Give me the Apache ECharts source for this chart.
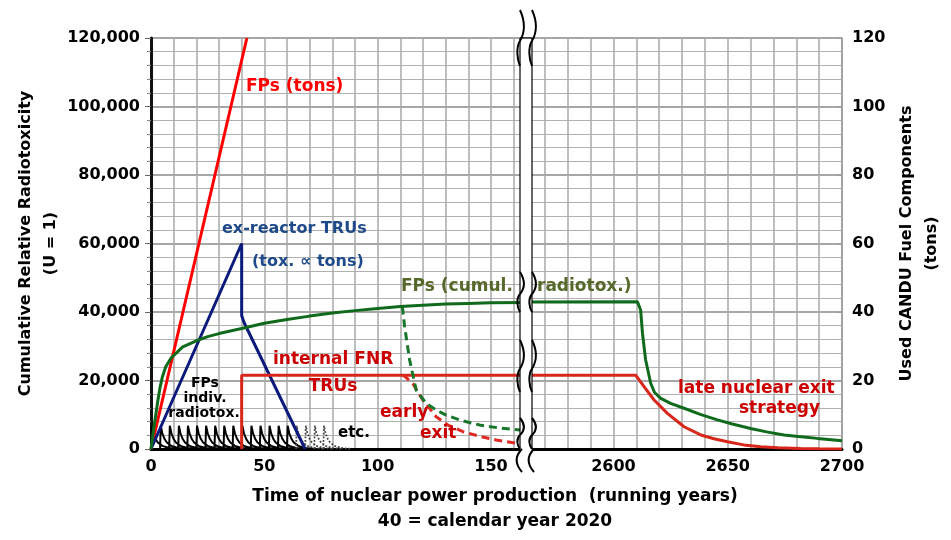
<!DOCTYPE html>
<html>
<head>
<meta charset="utf-8">
<script src="https://cdn.jsdelivr.net/npm/echarts@6/dist/echarts.min.js"></script>
<style>html,body{margin:0;padding:0;background:#fff;}#c{width:951px;height:540px;}</style>
</head>
<body>
<div id="c"></div>
<script>
// ---------- DATA (left y scale: cumulative relative radiotoxicity; right scale = tons = /1000) ----------
const xTicksLeft = [0, 50, 100, 150];
const xTicksRight = [2600, 2650, 2700];

const fpsTons = [[0, 0], [42.3, 120000]];
const exReactorTRUs = [[0, 0], [40, 60000], [40, 39000], [41, 37000], [68, 0]];
const fpsCumulLeft = [[0, 0], [1, 5000], [2, 9500], [3, 14000], [4, 18000], [5, 21000], [6.5, 24000], [9, 26700],
  [14, 29800], [20, 31600], [25, 32800], [30, 33700], [40, 35200], [50, 36700], [60, 37800], [70, 38800],
  [80, 39700], [90, 40400], [100, 41000], [110, 41600], [120, 42000], [130, 42300], [140, 42500], [150, 42700], [165, 42800]];
const fpsCumulEarlyExit = [[110.9, 41600], [111.9, 35700], [114.1, 26000], [117, 17200], [121.4, 13300], [126, 11300],
  [130.2, 9900], [137, 8300], [145, 7000], [153, 6200], [165, 5400]];
const fnrTRUsLeft = [[40, 0], [40, 21500], [165, 21500]];
const fnrEarlyExit = [[111, 21500], [112, 21200], [115.5, 19150], [119.9, 14300], [125.8, 9430], [131, 7000],
  [137.6, 5060], [145, 3700], [152.3, 2630], [165, 1300]];
const fpsCumulRight = [[2560, 42900], [2610.5, 43000], [2611.9, 40600], [2612.7, 33800], [2614.1, 26000], [2616.3, 19200],
  [2618, 16500], [2620.7, 14800], [2625, 13300], [2630.9, 11900], [2638, 10100], [2645.5, 8500], [2652, 7300],
  [2660, 6000], [2667, 5000], [2674.6, 4100], [2682, 3600], [2689.2, 3100], [2700, 2400]];
const fnrTRUsRight = [[2560, 21500], [2609.8, 21500], [2613.4, 18200], [2617.8, 14300], [2623.6, 10400], [2630.9, 6500],
  [2638.2, 4100], [2644, 3000], [2649.9, 2100], [2657, 1200], [2664.4, 670], [2672, 350], [2681.9, 150], [2690, 50], [2700, 0]];
// individual FP radiotoxicity saw-teeth (start years and one tooth's profile: [years after start, value])
const toothStarts = [0, 4, 8, 12, 16, 20, 24, 28, 32, 36, 40, 44, 48, 52, 56, 60];
const ghostToothStarts = [64, 68, 72, 76];
const toothProfile = [[0, 0], [0.3, 6800], [1, 4600], [2, 2900], [3, 1900], [5, 900], [8, 300], [12, 0]];

// ---------- build ----------
function teeth(starts) {
  const out = [];
  starts.forEach(s => {
    toothProfile.forEach(p => out.push([s + p[0], p[1]]));
    out.push([s, '-']);
  });
  return out;
}

const F = 'DejaVu Sans';
const chart = echarts.init(document.getElementById('c'), null, {renderer: 'canvas'});

function ln(name, data, color, width, xi, yi, type, z) {
  return {
    name, type: 'line', data, xAxisIndex: xi, yAxisIndex: yi, showSymbol: false, symbol: 'none',
    connectNulls: false, animation: false, z: z || 3,
    lineStyle: {color, width, type: type || 'solid'}
  };
}

function txt(text, x, y, color, size) {
  return {
    type: 'text', x: x, y: y, z: 20,
    style: {text, fill: color, font: 'bold ' + size + 'px "' + F + '"', align: 'left', verticalAlign: 'middle'}
  };
}
function txtC(text, cx, cy, color, size) {
  return {
    type: 'text', x: cx, y: cy, z: 20,
    style: {text, fill: color, font: 'bold ' + size + 'px "' + F + '"', align: 'center', verticalAlign: 'middle'}
  };
}
function bez(x1, y1, c1x, c1y, c2x, c2y, x2, y2) {
  return {
    type: 'bezierCurve', z: 31,
    shape: {x1, y1, x2, y2, cpx1: c1x, cpy1: c1y, cpx2: c2x, cpy2: c2y},
    style: {stroke: '#000', lineWidth: 2, fill: null}
  };
}
function squiggle(x, y0, y1) {
  const h = y1 - y0, m = y0 + h * 0.55;
  return [
    bez(x, y0, x + 5, y0 + h * 0.2, x + 5, y0 + h * 0.4, x, m),
    bez(x, m, x - 4, m + h * 0.12, x - 3, y1 - h * 0.12, x, y1)
  ];
}

const yLabel = {fontFamily: F, fontWeight: 'bold', fontSize: 16, color: '#000'};

const breakGraphics = [
  {type: 'rect', z: 30, shape: {x: 520, y: 38, width: 12, height: 434}, style: {fill: '#fff', stroke: null}},
  {type: 'line', z: 31, shape: {x1: 520, y1: 38, x2: 520, y2: 449}, style: {stroke: '#000', lineWidth: 1.2}},
  {type: 'line', z: 31, shape: {x1: 532, y1: 38, x2: 532, y2: 449}, style: {stroke: '#000', lineWidth: 1.2}},
  {type: 'line', z: 31, shape: {x1: 520, y1: 38, x2: 532, y2: 38}, style: {stroke: '#000', lineWidth: 1.2}}
].concat(
  squiggle(520, 10, 66), squiggle(532, 10, 66),
  squiggle(520, 272, 312), squiggle(532, 272, 312),
  squiggle(520, 340, 392), squiggle(532, 340, 392),
  squiggle(520, 418, 449), squiggle(532, 418, 449),
  [bez(522, 449, 515, 456, 515, 464, 522, 472), bez(534, 449, 527, 456, 527, 464, 534, 472)]
);

const option = {
  animation: false,
  backgroundColor: '#ffffff',
  grid: [
    {left: 151, top: 38, width: 374, height: 411},
    {left: 522, top: 38, width: 320, height: 411}
  ],
  xAxis: [
    {gridIndex: 0, type: 'value', min: 0, max: 165, interval: 10,
      axisLine: {lineStyle: {color: '#000', width: 3}}, axisTick: {show: false},
      axisLabel: Object.assign({margin: 10, formatter: v => xTicksLeft.indexOf(v) >= 0 ? String(v) : ''}, yLabel),
      splitLine: {show: true, lineStyle: {color: '#a8a8a8', width: 1.5}}},
    {gridIndex: 1, type: 'value', min: 2560, max: 2700, interval: 10,
      axisLine: {lineStyle: {color: '#000', width: 3}}, axisTick: {show: false},
      axisLabel: Object.assign({margin: 10, formatter: v => xTicksRight.indexOf(v) >= 0 ? String(v) : ''}, yLabel),
      splitLine: {show: true, lineStyle: {color: '#a8a8a8', width: 1.5}}}
  ],
  yAxis: [
    {gridIndex: 0, type: 'value', min: 0, max: 120000, interval: 20000,
      name: 'Cumulative Relative Radiotoxicity\n(U = 1)', nameLocation: 'middle', nameGap: 86, nameRotate: 90,
      nameTextStyle: {fontFamily: F, fontWeight: 'bold', fontSize: 16, color: '#000', lineHeight: 25},
      axisLine: {show: true, lineStyle: {color: '#111', width: 3}},
      axisTick: {show: true, length: 6, lineStyle: {color: '#666'}},
      minorTick: {show: true, splitNumber: 5, length: 4, lineStyle: {color: '#888'}},
      axisLabel: Object.assign({margin: 11, formatter: v => v.toLocaleString('en-US')}, yLabel),
      splitLine: {show: true, lineStyle: {color: '#8a8a8a', width: 1.5}},
      minorSplitLine: {show: true, lineStyle: {color: '#b0b0b0', width: 1.2}}},
    {gridIndex: 1, type: 'value', min: 0, max: 120000, interval: 20000,
      axisLine: {show: false}, axisTick: {show: false}, axisLabel: {show: false},
      minorTick: {show: false, splitNumber: 5},
      splitLine: {show: true, lineStyle: {color: '#8a8a8a', width: 1.5}},
      minorSplitLine: {show: true, lineStyle: {color: '#b0b0b0', width: 1.2}}},
    {gridIndex: 1, type: 'value', position: 'right', min: 0, max: 120, interval: 20,
      name: 'Used CANDU Fuel Components\n(tons)', nameLocation: 'middle', nameGap: 52, nameRotate: 90,
      nameTextStyle: {fontFamily: F, fontWeight: 'bold', fontSize: 16, color: '#000', lineHeight: 25},
      axisLine: {show: true, lineStyle: {color: '#999', width: 1.5}},
      axisTick: {show: true, inside: true, length: 4, lineStyle: {color: '#999'}},
      minorTick: {show: true, splitNumber: 5, length: 3, lineStyle: {color: '#aaa'}},
      axisLabel: Object.assign({margin: 10}, yLabel),
      splitLine: {show: false}}
  ],
  series: [
    ln('FPs indiv. radiotox.', teeth(toothStarts), '#000', 2, 0, 0, 'solid', 2),
    ln('FPs indiv. radiotox. (etc.)', teeth(ghostToothStarts), '#444', 1.8, 0, 0, 'dotted', 2),
    ln('FPs (tons)', fpsTons, '#ff0000', 3, 0, 0),
    ln('ex-reactor TRUs', exReactorTRUs, '#0c1a7c', 3, 0, 0),
    ln('internal FNR TRUs', fnrTRUsLeft, '#d8261a', 3, 0, 0),
    ln('FNR early exit', fnrEarlyExit, '#e02a22', 3, 0, 0, [8, 5]),
    ln('FPs (cumul. radiotox.)', fpsCumulLeft, '#0f6a1c', 3, 0, 0, 'solid', 4),
    ln('FPs early exit', fpsCumulEarlyExit, '#16772a', 3, 0, 0, [8, 5]),
    ln('internal FNR TRUs (late)', fnrTRUsRight, '#d8261a', 3, 1, 1),
    ln('FPs (cumul. radiotox.) (late)', fpsCumulRight, '#0f6a1c', 3, 1, 1, 'solid', 4)
  ],
  graphic: breakGraphics.concat([
    txt('FPs (tons)', 246, 87, '#ff0000', 17),
    txt('ex-reactor TRUs', 222, 229, '#1f4a8a', 16),
    txt('(tox. \u221D tons)', 252, 262, '#1f4a8a', 16),
    txt('FPs (cumul.', 401, 287, '#56682a', 17),
    txt('radiotox.)', 537, 287, '#56682a', 17),
    txt('internal FNR', 273, 360, '#cc0000', 17),
    txtC('TRUs', 333, 387, '#cc0000', 17),
    txt('early', 380, 413, '#cc0000', 17),
    txt('exit', 420, 434, '#cc0000', 17),
    txt('late nuclear exit', 678, 389, '#cc0000', 17),
    txt('strategy', 739, 409, '#cc0000', 17),
    txtC('FPs', 205, 383, '#000', 14),
    txtC('indiv.', 205, 398, '#000', 14),
    txtC('radiotox.', 204, 413, '#000', 14),
    txt('etc.', 338, 433, '#000', 15),
    txtC('Time of nuclear power production  (running years)', 495, 497, '#000', 17),
    txtC('40 = calendar year 2020', 495, 522, '#000', 17)
  ])
};
chart.setOption(option);
</script>
</body>
</html>
